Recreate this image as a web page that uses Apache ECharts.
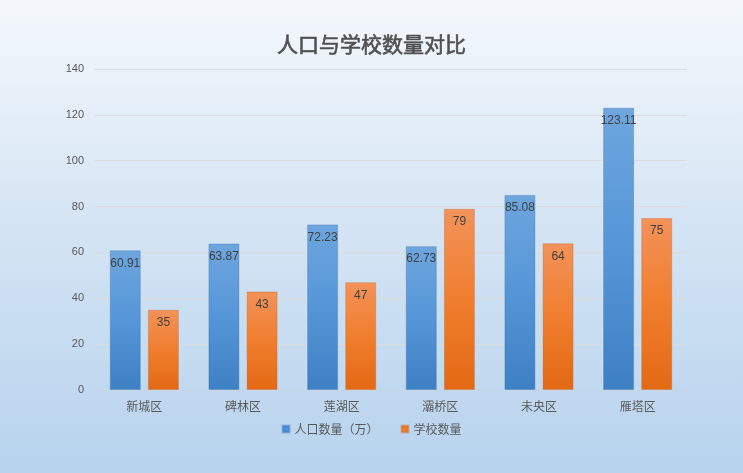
<!DOCTYPE html>
<html>
<head>
<meta charset="utf-8">
<script src="https://cdn.jsdelivr.net/npm/echarts@6/dist/echarts.min.js"></script>
<style>
  html, body { margin: 0; padding: 0; }
  #chart { width: 743px; height: 473px; }
</style>
</head>
<body>
<div id="chart"></div>
<script>
  const districts = ['新城区', '碑林区', '莲湖区', '灞桥区', '未央区', '雁塔区']
  const population = [60.91, 63.87, 72.23, 62.73, 85.08, 123.11]
  const schools = [35, 43, 47, 79, 64, 75]

  const blue = new echarts.graphic.LinearGradient(0, 0, 0, 1, [
    { offset: 0, color: '#6ea6de' },
    { offset: 0.5, color: '#5596d8' },
    { offset: 1, color: '#3e80c4' }
  ])
  const orange = new echarts.graphic.LinearGradient(0, 0, 0, 1, [
    { offset: 0, color: '#f3925a' },
    { offset: 0.5, color: '#f07e2e' },
    { offset: 1, color: '#e36913' }
  ])

  const chart = echarts.init(document.getElementById('chart'))
  chart.setOption({
    backgroundColor: new echarts.graphic.LinearGradient(0, 0, 0, 1, [
      { offset: 0, color: '#f4f8fc' },
      { offset: 0.45, color: '#d6e5f4' },
      { offset: 1, color: '#b7d3ee' }
    ]),
    title: {
      text: '人口与学校数量对比',
      left: 'center',
      top: 29,
      textStyle: {
        color: '#505050', fontSize: 21, fontWeight: 'normal', fontFamily: 'Noto Sans CJK SC',
        textBorderColor: '#505050', textBorderWidth: 0.6
      }
    },
    legend: {
      bottom: 33,
      itemWidth: 7,
      itemHeight: 7,
      itemGap: 22,
      icon: 'rect',
      textStyle: { color: '#595959', fontSize: 12, fontFamily: 'Noto Sans CJK SC' },
      data: [
        { name: '人口数量（万）', itemStyle: { color: '#4a8fd4' } },
        { name: '学校数量', itemStyle: { color: '#ee7a2a' } }
      ]
    },
    grid: { left: 95, right: 56, top: 69, bottom: 83 },
    xAxis: {
      type: 'category',
      data: districts,
      axisLine: { lineStyle: { color: '#c8d5e2' } },
      axisTick: { show: false },
      axisLabel: { color: '#595959', fontSize: 12, margin: 10, fontFamily: 'Noto Sans CJK SC' }
    },
    yAxis: {
      type: 'value',
      min: 0,
      max: 140,
      interval: 20,
      axisLine: { show: false },
      axisTick: { show: false },
      axisLabel: { color: '#595959', fontSize: 11, margin: 11 },
      splitLine: { lineStyle: { color: '#dcdbd9' } }
    },
    series: [
      {
        name: '人口数量（万）',
        type: 'bar',
        data: population,
        barWidth: 31,
        barGap: '23%',
        itemStyle: { color: blue, borderColor: 'rgba(60,110,170,0.35)', borderWidth: 1 },
        label: { show: true, position: 'insideTop', distance: 7, color: '#404040', fontSize: 12 }
      },
      {
        name: '学校数量',
        type: 'bar',
        data: schools,
        barWidth: 31,
        itemStyle: { color: orange, borderColor: 'rgba(200,100,40,0.35)', borderWidth: 1 },
        label: { show: true, position: 'insideTop', distance: 7, color: '#404040', fontSize: 12 }
      }
    ]
  })
</script>
</body>
</html>
